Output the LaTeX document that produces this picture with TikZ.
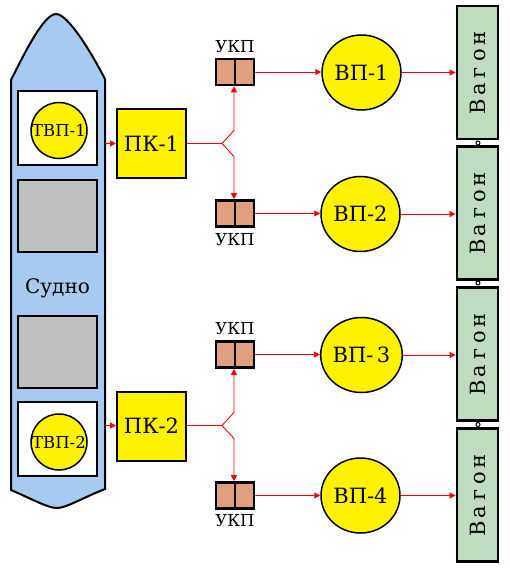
\documentclass[tikz,border=0pt]{standalone}
\usepackage{fontspec}
\setmainfont{DejaVu Serif}
\newfontfamily\serf{DejaVu Serif}
\usetikzlibrary{arrows.meta,shapes.geometric}
\definecolor{shipblue}{RGB}{166,202,240}
\definecolor{ukpfill}{RGB}{224,160,128}
\definecolor{wagfill}{RGB}{192,220,192}
\definecolor{boxgray}{RGB}{192,192,192}
\tikzset{
  every node/.style={font=\serf},
  shipbody/.style={draw=black,line width=2pt,fill=shipblue},
  hold/.style={draw=black,line width=2.2pt,fill=white,minimum width=79pt,minimum height=74pt,inner sep=0pt},
  grayhold/.style={draw=black,line width=2.2pt,fill=boxgray,minimum width=79pt,minimum height=72pt,inner sep=0pt},
  tvp/.style={circle,draw=black,line width=1.5pt,fill=yellow,minimum size=56pt,inner sep=0pt,font=\serf\fontsize{16.5}{16.5}\selectfont},
  pk/.style={draw=black,line width=2pt,fill=yellow,minimum width=69pt,minimum height=69pt,inner sep=0pt,font=\serf\fontsize{21}{21}\selectfont},
  ukp/.style={draw=black,line width=2.6pt,fill=ukpfill,minimum width=38pt,minimum height=26pt,inner sep=0pt},
  ukplabel/.style={font=\serf\fontsize{16.5}{16.5}\selectfont,inner sep=0pt},
  vp/.style={ellipse,draw=black,line width=1.5pt,fill=yellow,minimum width=79pt,minimum height=75pt,inner sep=0pt,font=\serf\fontsize{21}{21}\selectfont},
  wagon/.style={draw=black,line width=2.8pt,fill=wagfill,minimum width=41pt,minimum height=133pt,inner sep=0pt},
  wagtext/.style={rotate=90,font=\serf\fontsize{21}{21}\selectfont,inner sep=0pt},
  coupler/.style={circle,draw=black,line width=1pt,fill=white,minimum size=4pt,inner sep=0pt},
  flow/.style={draw=red,line width=0.9pt,-{Triangle[length=6pt,width=6pt]}},
  flowline/.style={draw=red,line width=0.9pt},
}
\newcommand{\wl}[1]{\makebox[17pt]{#1}}
\newcommand{\wagonword}{\wl{В}\wl{а}\wl{г}\wl{о}\wl{н}}
\begin{document}
\begin{tikzpicture}[x=1pt,y=-1pt]
\useasboundingbox (0,0) rectangle (509,573);
% ship
\draw[shipbody] (11,80) .. controls (25,52) and (44,14) .. (56,14)
  .. controls (68,14) and (91,52) .. (105,79)
  -- (105,489) .. controls (80,499) and (66,508) .. (57,508)
  .. controls (48,508) and (34,500) .. (11,490) -- cycle;
\node[hold] (h1) at (57.5,128) {};
\node[grayhold] (g1) at (57.5,216) {};
\node[grayhold] (g2) at (57.5,352) {};
\node[hold] (h2) at (57.5,439) {};
\node[tvp] (t1) at (59,130.5) {ТВП-1};
\node[tvp] (t2) at (59,442) {ТВП-2};
\node[font=\serf\fontsize{20}{20}\selectfont,inner sep=0pt] (sudno) at (57.5,288) {Судно};
\coordinate (s1) at (105,143.5);
\coordinate (s2) at (105,425.5);
% PK
\node[pk] (pk1) at (151.5,143.5) {ПК-1};
\node[pk] (pk2) at (151.5,426) {ПК-2};
\draw[flow] (s1) -- (pk1.west);
\draw[flow] (s2) -- (pk2.west |- s2);
% UKP
\node[ukp] (u1) at (235,72) {};
\node[ukp] (u2) at (235,213.5) {};
\node[ukp] (u3) at (235,354.5) {};
\node[ukp] (u4) at (235,495.5) {};
\foreach \u in {u1,u2,u3,u4} \draw[line width=2.6pt] (\u.north) -- (\u.south);
\node[ukplabel] (l1) at (235,47) {УКП};
\node[ukplabel] (l2) at (235,240) {УКП};
\node[ukplabel] (l3) at (235,329) {УКП};
\node[ukplabel] (l4) at (235,521) {УКП};
% branches
\coordinate (j1) at (222,143.5);
\coordinate (a1) at (234,130.5);
\coordinate (b1) at (234,156.5);
\draw[flowline] (pk1.east) -- (j1);
\draw[flow] (j1) -- (a1) -- (a1 |- u1.south);
\draw[flow] (j1) -- (b1) -- (b1 |- u2.north);
\coordinate (j2) at (222,425.5);
\coordinate (a2) at (234,412.5);
\coordinate (b2) at (234,438.5);
\draw[flowline] (pk2.east |- j2) -- (j2);
\draw[flow] (j2) -- (a2) -- (a2 |- u3.south);
\draw[flow] (j2) -- (b2) -- (b2 |- u4.north);
% VP
\node[vp] (v1) at (361.5,72.5) {ВП-1};
\node[vp] (v2) at (360.5,214) {ВП-2};
\node[vp] (v3) at (361.5,355) {ВП-\,3};
\node[vp] (v4) at (360.5,495.5) {ВП-4};
\draw[flow] (u1.east) -- (v1.west |- u1.east);
\draw[flow] (u2.east) -- (v2.west |- u2.east);
\draw[flow] (u3.east) -- (v3.west |- u3.east);
\draw[flow] (u4.east) -- (v4.west |- u4.east);
% wagons
\node[wagon] (w1) at (477.5,72.5) {};
\node[wagon] (w2) at (477.5,213) {};
\node[wagon] (w3) at (477.5,354) {};
\node[wagon] (w4) at (477.5,495) {};
\foreach \w in {w1,w2,w3,w4} \node[wagtext] at (\w) {\wagonword};
\draw[flow] (v1.east) -- (w1.west |- v1.east);
\draw[flow] (v2.east) -- (w2.west |- v2.east);
\draw[flow] (v3.east) -- (w3.west |- v3.east);
\draw[flow] (v4.east) -- (w4.west |- v4.east);
\node[coupler] (c1) at (478,143) {};
\node[coupler] (c2) at (478,283) {};
\node[coupler] (c3) at (478,424.5) {};
\end{tikzpicture}
\end{document}
